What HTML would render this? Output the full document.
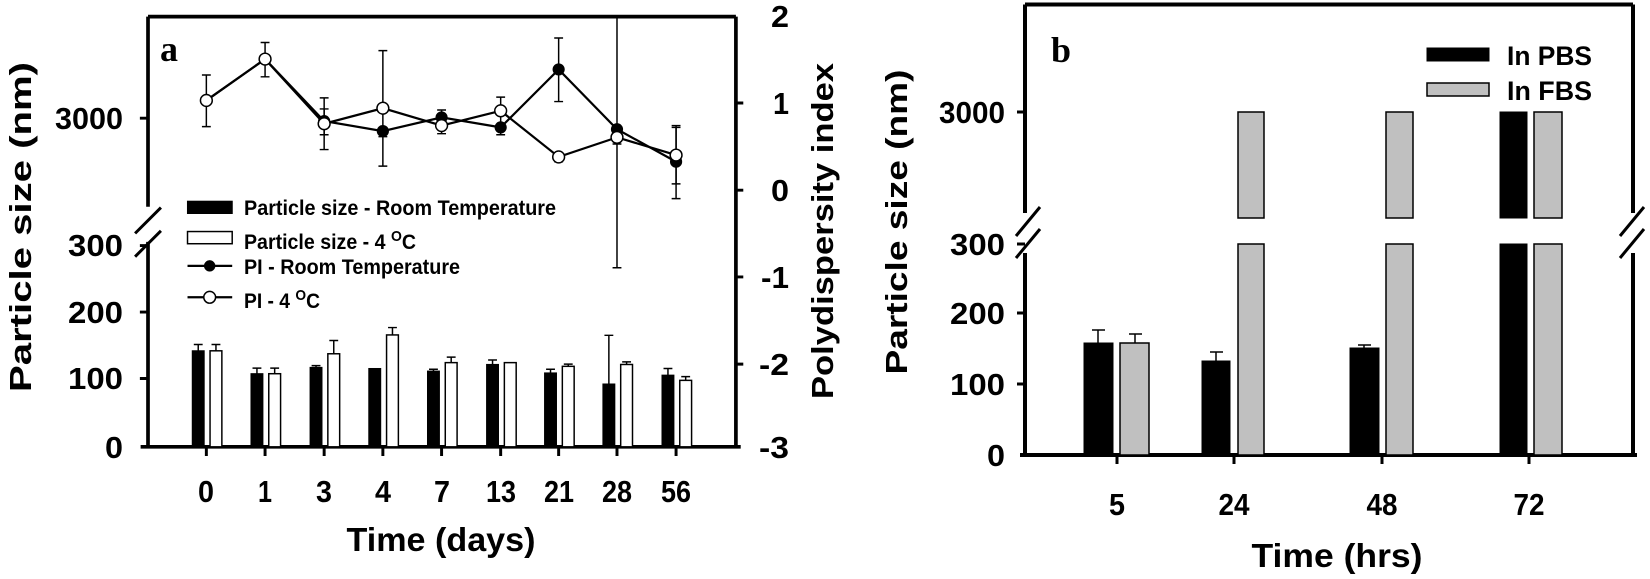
<!DOCTYPE html>
<html><head><meta charset="utf-8"><style>
html,body{margin:0;padding:0;background:#fff;}
svg{display:block;}
text{font-family:"Liberation Sans",sans-serif;font-weight:bold;fill:#000;}
</style></head><body>
<svg width="1650" height="579" viewBox="0 0 1650 579" xmlns="http://www.w3.org/2000/svg">
<g transform="translate(100,0) scale(0.36928)" stroke="#000" fill="none">
  <path d="M130,45 H1722" stroke-width="10"/>
  <path d="M130,45 V560 M130,655 V1210" stroke-width="10"/>
  <path d="M95,632 L165,562 M95,695 L165,625" stroke-width="8"/>
  <path d="M1722,45 V1210" stroke-width="10"/>
  <path d="M110,1210 H1735" stroke-width="10"/>
  <path d="M1722,279 h20 M1722,515 h20 M1722,750 h20 M1722,986 h20" stroke-width="8"/>
  <path d="M130,320 h-22 M130,665 h-22 M130,845 h-22 M130,1025 h-22" stroke-width="8"/>
  <path d="M288,1210 v25 M447,1210 v25 M607,1210 v25 M766,1210 v25 M925,1210 v25 M1085,1210 v25 M1242,1210 v25 M1400,1210 v25 M1560,1210 v25" stroke-width="8"/>
  <g fill="#000" stroke="#000" stroke-width="3">
    <rect x="250" y="950" width="32" height="260"/>
    <rect x="409" y="1012" width="32" height="198"/>
    <rect x="569" y="995" width="32" height="215"/>
    <rect x="728" y="998" width="32" height="212"/>
    <rect x="887" y="1005" width="32" height="205"/>
    <rect x="1047" y="987" width="32" height="223"/>
    <rect x="1204" y="1010" width="32" height="200"/>
    <rect x="1362" y="1040" width="32" height="170"/>
    <rect x="1522" y="1016" width="32" height="194"/>
  </g>
  <g fill="#fff" stroke="#000" stroke-width="4">
    <rect x="298" y="950" width="32" height="260"/>
    <rect x="457" y="1012" width="32" height="198"/>
    <rect x="617" y="958" width="32" height="252"/>
    <rect x="776" y="907" width="32" height="303"/>
    <rect x="935" y="982" width="32" height="228"/>
    <rect x="1095" y="982" width="32" height="228"/>
    <rect x="1252" y="992" width="32" height="218"/>
    <rect x="1410" y="987" width="32" height="223"/>
    <rect x="1570" y="1030" width="32" height="180"/>
  </g>
  <g stroke-width="4">
    <path d="M266,950 V933 M254,933 h24"/>
    <path d="M425,1012 V997 M413,997 h24"/>
    <path d="M585,995 V990 M573,990 h24"/>
    <path d="M903,1005 V1000 M891,1000 h24"/>
    <path d="M1063,987 V975 M1051,975 h24"/>
    <path d="M1220,1010 V1000 M1208,1000 h24"/>
    <path d="M1378,1040 V908 M1366,908 h24"/>
    <path d="M1538,1016 V998 M1526,998 h24"/>
    <path d="M314,950 V933 M302,933 h24"/>
    <path d="M473,1012 V997 M461,997 h24"/>
    <path d="M633,958 V922 M621,922 h24"/>
    <path d="M792,907 V887 M780,887 h24"/>
    <path d="M951,982 V967 M939,967 h24"/>
    <path d="M1268,992 V986 M1256,986 h24"/>
    <path d="M1426,987 V980 M1414,980 h24"/>
    <path d="M1586,1030 V1020 M1574,1020 h24"/>
  </g>
  <g stroke-width="4">
    <path d="M288,203 V343 M276,203 h24 M276,343 h24"/>
    <path d="M447,115 V208 M435,115 h24 M435,208 h24"/>
    <path d="M607,265 V405 M595,265 h24 M595,405 h24"/>
    <path d="M607,295 V365 M595,295 h24 M595,365 h24"/>
    <path d="M766,137 V450 M754,137 h24 M754,450 h24"/>
    <path d="M766,340 V370 M754,370 h24"/>
    <path d="M925,298 V362 M913,298 h24 M913,362 h24"/>
    <path d="M1085,263 V365 M1073,263 h24 M1073,365 h24"/>
    <path d="M1242,103 V275 M1230,103 h24 M1230,275 h24"/>
    <path d="M1242,415 V438 M1230,438 h24"/>
    <path d="M1400,45 V725 M1388,725 h24"/>
    <path d="M1400,340 V390 M1388,390 h24"/>
    <path d="M1560,340 V538 M1548,340 h24 M1548,538 h24"/>
    <path d="M1560,345 V498 M1548,345 h24 M1548,498 h24"/>
  </g>
  <polyline points="288,272 447,160 607,328 766,355 925,318 1085,345 1242,188 1400,350 1560,438" stroke-width="6"/>
  <polyline points="288,272 447,160 607,335 766,293 925,340 1085,300 1242,425 1400,372 1560,420" stroke-width="6"/>
  <g fill="#000" stroke-width="3">
    <circle cx="607" cy="328" r="15"/><circle cx="766" cy="355" r="15"/><circle cx="925" cy="318" r="15"/>
    <circle cx="1085" cy="345" r="15"/><circle cx="1242" cy="188" r="15"/><circle cx="1400" cy="350" r="15"/><circle cx="1560" cy="438" r="15"/>
  </g>
  <g fill="#fff" stroke-width="4">
    <circle cx="288" cy="272" r="16"/><circle cx="447" cy="160" r="16"/><circle cx="607" cy="335" r="16"/><circle cx="766" cy="293" r="16"/>
    <circle cx="925" cy="340" r="16"/><circle cx="1085" cy="300" r="16"/><circle cx="1242" cy="425" r="16"/><circle cx="1400" cy="372" r="16"/><circle cx="1560" cy="420" r="16"/>
  </g>
  <rect x="237" y="545" width="121" height="33" fill="#000" stroke-width="3"/>
  <rect x="237" y="627" width="121" height="33" fill="#fff" stroke-width="4"/>
  <path d="M237,720 H358 M237,805 H358" stroke-width="6"/>
  <circle cx="297" cy="720" r="15" fill="#000"/>
  <circle cx="297" cy="805" r="16" fill="#fff" stroke-width="4"/>
</g>
<text x="160" y="61" style="font-family:'Liberation Serif',serif;font-size:36px">a</text>
<g font-size="31" text-anchor="end">
  <text x="123" y="129" textLength="68" lengthAdjust="spacingAndGlyphs">3000</text>
  <text x="123" y="256" textLength="55" lengthAdjust="spacingAndGlyphs">300</text>
  <text x="123" y="323" textLength="55" lengthAdjust="spacingAndGlyphs">200</text>
  <text x="123" y="389" textLength="55" lengthAdjust="spacingAndGlyphs">100</text>
  <text x="123" y="458" textLength="18" lengthAdjust="spacingAndGlyphs">0</text>
</g>
<g font-size="31" text-anchor="end">
  <text x="789" y="27" textLength="18" lengthAdjust="spacingAndGlyphs">2</text>
  <text x="789" y="114" textLength="16" lengthAdjust="spacingAndGlyphs">1</text>
  <text x="789" y="201" textLength="18" lengthAdjust="spacingAndGlyphs">0</text>
  <text x="789" y="288" textLength="28" lengthAdjust="spacingAndGlyphs">-1</text>
  <text x="789" y="375" textLength="30" lengthAdjust="spacingAndGlyphs">-2</text>
  <text x="789" y="458" textLength="30" lengthAdjust="spacingAndGlyphs">-3</text>
</g>
<g font-size="31" text-anchor="middle">
  <text x="206" y="502" textLength="16" lengthAdjust="spacingAndGlyphs">0</text><text x="265" y="502" textLength="14" lengthAdjust="spacingAndGlyphs">1</text><text x="324" y="502" textLength="16" lengthAdjust="spacingAndGlyphs">3</text>
  <text x="383" y="502" textLength="16" lengthAdjust="spacingAndGlyphs">4</text><text x="442" y="502" textLength="16" lengthAdjust="spacingAndGlyphs">7</text><text x="501" y="502" textLength="30" lengthAdjust="spacingAndGlyphs">13</text>
  <text x="559" y="502" textLength="30" lengthAdjust="spacingAndGlyphs">21</text><text x="617" y="502" textLength="30" lengthAdjust="spacingAndGlyphs">28</text><text x="676" y="502" textLength="30" lengthAdjust="spacingAndGlyphs">56</text>
</g>
<text x="441" y="551" font-size="33" text-anchor="middle" textLength="189" lengthAdjust="spacingAndGlyphs">Time (days)</text>
<text transform="translate(31,227) rotate(-90)" font-size="31" text-anchor="middle" textLength="330" lengthAdjust="spacingAndGlyphs">Particle size (nm)</text>
<text transform="translate(833,231) rotate(-90)" font-size="31" text-anchor="middle" textLength="336" lengthAdjust="spacingAndGlyphs">Polydispersity index</text>
<g font-size="21">
  <text x="244" y="215" textLength="312" lengthAdjust="spacingAndGlyphs">Particle size - Room Temperature</text>
  <text x="244" y="249" textLength="172" lengthAdjust="spacingAndGlyphs">Particle size - 4 <tspan font-size="15" dy="-8">O</tspan><tspan dy="8">C</tspan></text>
  <text x="244" y="274" textLength="216" lengthAdjust="spacingAndGlyphs">PI - Room Temperature</text>
  <text x="244" y="308" textLength="76" lengthAdjust="spacingAndGlyphs">PI - 4 <tspan font-size="15" dy="-8">O</tspan><tspan dy="8">C</tspan></text>
</g>

<g stroke="#000" fill="none">
  <path d="M1025,4.5 H1633" stroke-width="4"/>
  <path d="M1025,4.5 V213 M1025,253 V455" stroke-width="4"/>
  <path d="M1633,4.5 V213 M1633,253 V455" stroke-width="4"/>
  <path d="M1016,236 L1040,207 M1016,258 L1040,229" stroke-width="3"/>
  <path d="M1620,236 L1644,207 M1620,258 L1644,229" stroke-width="3"/>
  <path d="M1020,455 H1637" stroke-width="4"/>
  <path d="M1025,112 h-8 M1025,244 h-8 M1025,313 h-8 M1025,384 h-8" stroke-width="3"/>
  <path d="M1117,455 v9 M1234,455 v9 M1382,455 v9 M1529,455 v9" stroke-width="3"/>
  <g fill="#000" stroke-width="1">
    <rect x="1084" y="343" width="29" height="112"/>
    <rect x="1202" y="361" width="28" height="94"/>
    <rect x="1350" y="348" width="29" height="107"/>
    <rect x="1500" y="244" width="27" height="211"/>
    <rect x="1500" y="112" width="27" height="106"/>
  </g>
  <g fill="#c0c0c0" stroke-width="1.5">
    <rect x="1120" y="343" width="29" height="112"/>
    <rect x="1238" y="244" width="26" height="211"/>
    <rect x="1238" y="112" width="26" height="106"/>
    <rect x="1386" y="244" width="27" height="211"/>
    <rect x="1386" y="112" width="27" height="106"/>
    <rect x="1534" y="244" width="28" height="211"/>
    <rect x="1534" y="112" width="28" height="106"/>
  </g>
  <g stroke-width="1.5">
    <path d="M1098,343 V330 M1092,330 h13"/>
    <path d="M1135,343 V334 M1129,334 h13"/>
    <path d="M1216,361 V352 M1210,352 h13"/>
    <path d="M1364,348 V345 M1358,345 h13"/>
  </g>
  <rect x="1427" y="48" width="62" height="13" fill="#000" stroke-width="1"/>
  <rect x="1427" y="83" width="62" height="13" fill="#c0c0c0" stroke-width="1.5"/>
</g>
<text x="1051" y="62" style="font-family:'Liberation Serif',serif;font-size:36px">b</text>
<g font-size="27">
  <text x="1507" y="65" textLength="85" lengthAdjust="spacingAndGlyphs">In PBS</text>
  <text x="1507" y="100" textLength="85" lengthAdjust="spacingAndGlyphs">In FBS</text>
</g>
<g font-size="31" text-anchor="end">
  <text x="1005" y="123" textLength="66" lengthAdjust="spacingAndGlyphs">3000</text>
  <text x="1005" y="255" textLength="55" lengthAdjust="spacingAndGlyphs">300</text>
  <text x="1005" y="324" textLength="55" lengthAdjust="spacingAndGlyphs">200</text>
  <text x="1005" y="395" textLength="55" lengthAdjust="spacingAndGlyphs">100</text>
  <text x="1005" y="466" textLength="18" lengthAdjust="spacingAndGlyphs">0</text>
</g>
<g font-size="31" text-anchor="middle">
  <text x="1117" y="515" textLength="16" lengthAdjust="spacingAndGlyphs">5</text><text x="1234" y="515" textLength="31" lengthAdjust="spacingAndGlyphs">24</text>
  <text x="1382" y="515" textLength="31" lengthAdjust="spacingAndGlyphs">48</text><text x="1529" y="515" textLength="31" lengthAdjust="spacingAndGlyphs">72</text>
</g>
<text x="1337" y="567" font-size="33" text-anchor="middle" textLength="171" lengthAdjust="spacingAndGlyphs">Time (hrs)</text>
<text transform="translate(907,222) rotate(-90)" font-size="31" text-anchor="middle" textLength="305" lengthAdjust="spacingAndGlyphs">Particle size (nm)</text>
</svg>
</body></html>
